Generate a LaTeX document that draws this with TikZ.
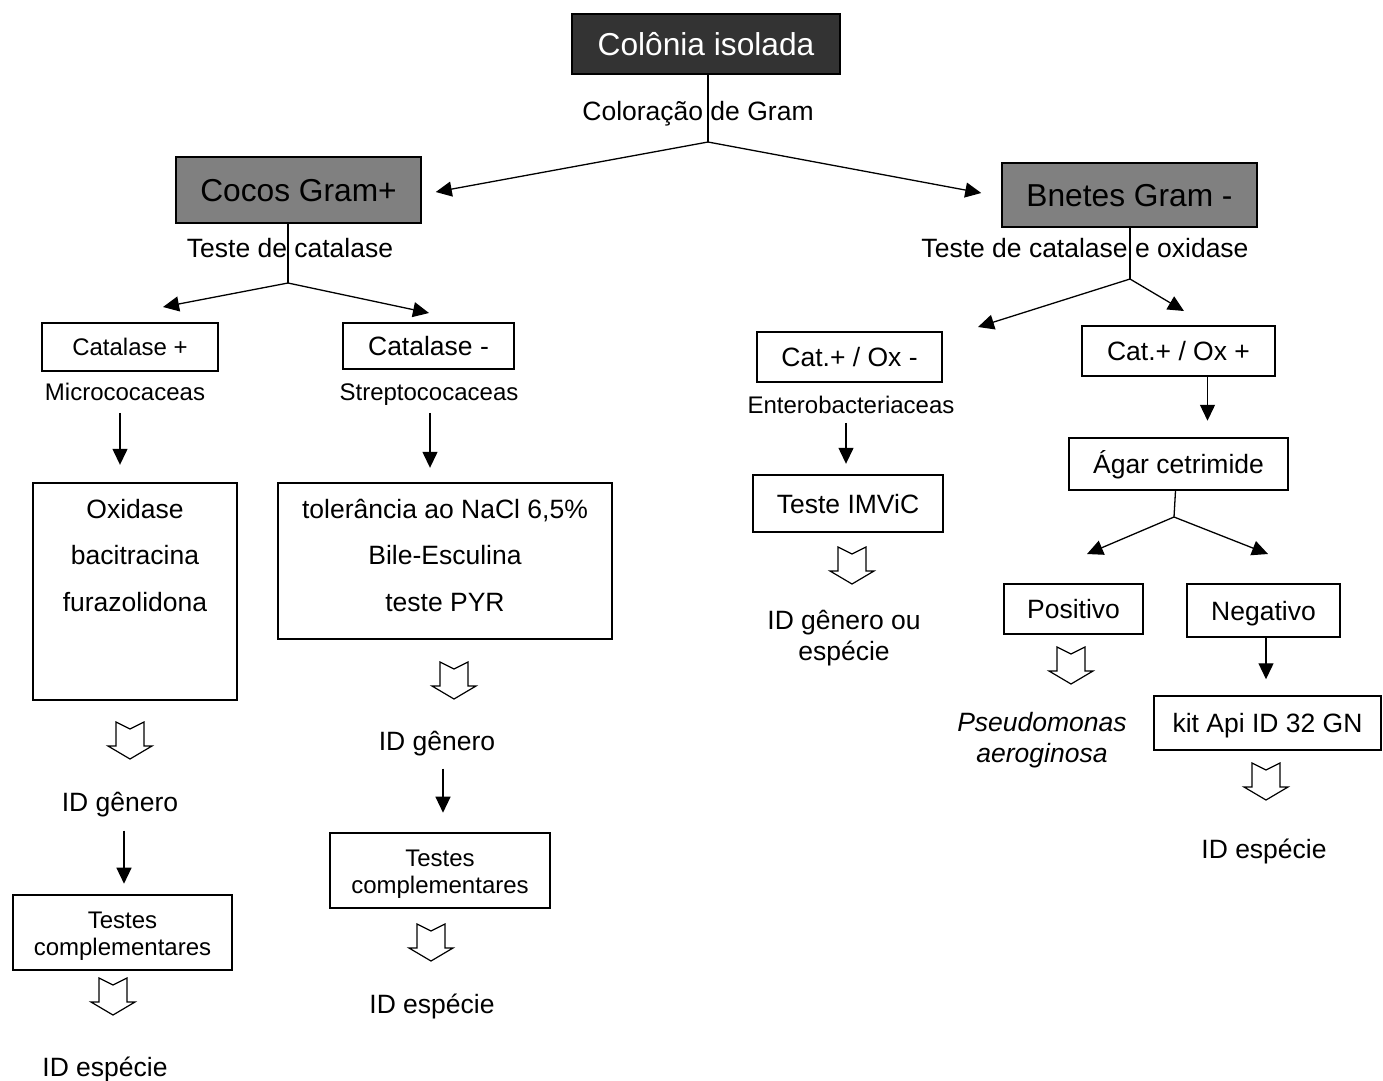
\documentclass[tikz,border=0pt]{standalone}
\usepackage{fontspec}
\setmainfont{Liberation Sans}
\usetikzlibrary{arrows.meta}

\definecolor{darkbox}{HTML}{333333}
\definecolor{greybox}{HTML}{808080}

\tikzset{
  big/.style={font=\fontsize{31.7}{38}\selectfont, text height=22.7pt, text depth=0pt, inner sep=0pt},
  mid/.style={font=\fontsize{26.5}{32}\selectfont, text height=19pt, text depth=0pt, inner sep=0pt},
  small/.style={font=\fontsize{24}{29}\selectfont, text height=17.2pt, text depth=0pt, inner sep=0pt},
  box/.style={draw, line width=1.5pt, inner sep=0pt},
  link/.style={line width=1.3pt},
  arr/.style={line width=1.3pt, -{Triangle[length=16pt,width=15pt]}},
  pics/hollow/.style={code={
    \draw[line width=1.2pt] (-14,0) -- (0,7) -- (14,0) -- (14,24) -- (22,24)
      -- (0,37) -- (-22,24) -- (-14,24) -- cycle;}},
}

\begin{document}
\begin{tikzpicture}[x=1pt, y=-1pt]
\useasboundingbox (0,0) rectangle (1383,1080);

% top
\node[box, big, fill=darkbox, text=white, minimum width=268, minimum height=60] (col) at (706,44) {Colônia isolada};
\node[mid] (gram) at (698,111) {Coloração de Gram};

\node[box, big, fill=greybox, minimum width=245, minimum height=66] (cocos) at (298.5,190) {Cocos Gram+};
\node[box, big, fill=greybox, minimum width=255, minimum height=64] (bnetes) at (1129.5,195) {Bnetes Gram -};

\coordinate (f0) at (708,142);
\draw[link] (f0 |- col.south) -- (f0);
\draw[arr] (f0) -- ([xshift=14pt,yshift=-2pt]cocos.east);
\draw[arr] (f0) -- ([xshift=-20pt,yshift=2pt]bnetes.west);

% Gram +
\node[mid] (tcat) at (290,248) {Teste de catalase};
\node[box, small, minimum width=176, minimum height=48] (catp) at (130,347) {Catalase +};
\node[box, mid, minimum width=171, minimum height=46] (catm) at (428.5,346) {Catalase -};

\coordinate (f1) at (288,283);
\coordinate (t1) at (163,307);
\coordinate (t2) at (429,313);
\draw[link] (f1 |- cocos.south) -- (f1);
\draw[arr] (f1) -- (t1);
\draw[arr] (f1) -- (t2);

\node[small] (micro) at (125,392) {Micrococaceas};
\node[small] (strep) at (429,392) {Streptococaceas};

\node[box, minimum width=204, minimum height=217] (oxi) at (135,591.5) {};
\node[mid] (oxi1) at (135,509) {Oxidase};
\node[mid] (oxi2) at (135,555) {bacitracina};
\node[mid] (oxi3) at (135,602) {furazolidona};

\node[box, minimum width=334, minimum height=156] (tol) at (445,561) {};
\node[mid] (tol1) at (445,509) {tolerância ao NaCl 6,5\%};
\node[mid] (tol2) at (445,555) {Bile-Esculina};
\node[mid] (tol3) at (445,602) {teste PYR};

\draw[arr] ([xshift=-5pt,yshift=-12pt]micro.south) -- ++(0,52);
\draw[arr] ([xshift=1pt,yshift=-12pt]strep.south) -- ++(0,55);

\pic (h1) at (130,722) {hollow};
\pic (h2) at (454,662) {hollow};

\node[mid] (idg1) at (120,802) {ID gênero};
\node[mid] (idg2) at (437,741) {ID gênero};

\draw[arr] ([xshift=4pt,yshift=-19pt]idg1.south) -- ++(0,53);
\draw[arr] ([xshift=6pt,yshift=-18pt]idg2.south) -- ++(0,44);

\node[box, minimum width=219, minimum height=75] (tcl) at (122.5,932.5) {};
\node[small] (tcl1) at (122.5,920) {Testes};
\node[small] (tcl2) at (122.5,947) {complementares};

\node[box, minimum width=220, minimum height=75] (tcm) at (440,870.5) {};
\node[small] (tcm1) at (440,858) {Testes};
\node[small] (tcm2) at (440,885) {complementares};

\pic (h3) at (113,978) {hollow};
\pic (h4) at (431,924) {hollow};

\node[mid] (ide1) at (105,1067) {ID espécie};
\node[mid] (ide2) at (432,1004) {ID espécie};

% Gram -
\node[mid] (tcox) at (1085,248) {Teste de catalase e oxidase};
\node[box, mid, minimum width=185, minimum height=50] (oxm) at (849.5,357) {Cat.+ / Ox -};
\node[box, mid, minimum width=193, minimum height=50] (oxp) at (1178.5,351) {Cat.+ / Ox +};

\coordinate (f2) at (1130,279);
\coordinate (t3) at (978,327);
\coordinate (t4) at (1184,311);
\draw[link] (f2 |- bnetes.south) -- (f2);
\draw[arr] (f2) -- (t3);
\draw[arr] (f2) -- (t4);

\node[small] (entero) at (851,405) {Enterobacteriaceas};
\node[box, mid, minimum width=190, minimum height=57] (imvic) at (848,503.5) {Teste IMViC};
\draw[arr] ([xshift=-5pt,yshift=-9pt]entero.south) -- ++(0,41);
\pic (h5) at (852,547) {hollow};
\node[mid] (idgo1) at (844,620) {ID gênero ou};
\node[mid] (idgo2) at (844,651) {espécie};

\node[box, mid, minimum width=219, minimum height=52] (agar) at (1178.5,464) {Ágar cetrimide};
\draw[arr] ([xshift=29pt]oxp.south) -- ++(0,44);

\coordinate (f3) at (1174,517);
\coordinate (t5) at (1087,554);
\coordinate (t6) at (1268,554);
\draw[link] ([xshift=-3pt]agar.south) -- (f3);
\draw[arr] (f3) -- (t5);
\draw[arr] (f3) -- (t6);

\node[box, mid, minimum width=139, minimum height=50] (pos) at (1073.5,609) {Positivo};
\node[box, mid, minimum width=153, minimum height=53] (neg) at (1263.5,610.5) {Negativo};

\pic (h6) at (1071,647) {hollow};
\node[mid, font=\fontsize{26.5}{32}\selectfont\itshape] (pseu1) at (1042,722) {Pseudomonas};
\node[mid, font=\fontsize{26.5}{32}\selectfont\itshape] (pseu2) at (1042,753) {aeroginosa};

\node[box, mid, minimum width=227, minimum height=54] (kit) at (1267.5,723) {kit Api ID 32 GN};
\draw[arr] ([xshift=2.5pt]neg.south) -- ([xshift=-1.5pt,yshift=16pt]kit.north);
\pic (h7) at (1266,763) {hollow};
\node[mid] (ide3) at (1264,849) {ID espécie};

\end{tikzpicture}
\end{document}
